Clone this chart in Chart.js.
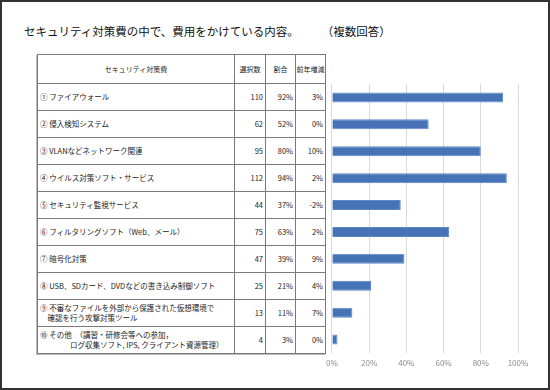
<!DOCTYPE html>
<html lang="ja">
<head>
<meta charset="utf-8">
<script src="https://cdn.jsdelivr.net/npm/chart.js@4.4.0/dist/chart.umd.min.js"></script>
<style>
    html, body { margin: 0; padding: 0; background: #fff; }
    #frame {
        position: relative;
        width: 550px;
        height: 390px;
        box-sizing: border-box;
        border: 2px solid #333;
        overflow: hidden;
        font-family: "Noto Sans CJK JP", sans-serif;
        color: #222;
    }
    #title {
        position: absolute;
        left: 22px;
        top: 21px;
        font-size: 11.5px;
        line-height: 16px;
        white-space: pre;
        color: #111;
    }
    #table {
        position: absolute;
        left: 35px;
        top: 52px;
        width: 288px;
        border-collapse: collapse;
        table-layout: fixed;
        font-size: 7.5px;
        box-shadow: -1px 1px 0 #bbb;
    }
    #table td, #table th {
        border: 1px solid #7a7a7a;
        padding: 0 2px;
        overflow: hidden;
        white-space: pre;
        font-weight: normal;
    }
    #table th { height: 28px; text-align: center; font-size: 7px; padding: 0; }
    #table td { height: 26px; line-height: 10px; }
    #table td.num { text-align: right; }
    #chart-box {
        position: absolute;
        left: 319px;
        top: 72px;
        width: 222px;
        height: 301px;
    }
</style>
</head>
<body>
<div id="frame">
    <div id="title">セキュリティ対策費の中で、費用をかけている内容。　　　（複数回答）</div>
    <table id="table">
        <colgroup>
            <col style="width:197px"><col style="width:31px"><col style="width:30px"><col style="width:30px">
        </colgroup>
        <thead>
            <tr><th>セキュリティ対策費</th><th>選択数</th><th>割合</th><th>前年増減</th></tr>
        </thead>
        <tbody id="table-body"></tbody>
    </table>
    <div id="chart-box"><canvas id="barChart"></canvas></div>
</div>
<script>
/* ==================================================
   セキュリティ対策費 — 表 + 横棒グラフ (Chart.js)
   ================================================== */

// 項目名（表の1列目）
const items = [
    '① ファイアウォール',
    '② 侵入検知システム',
    '③ VLANなどネットワーク関連',
    '④ ウイルス対策ソフト・サービス',
    '⑤ セキュリティ監視サービス',
    '⑥ フィルタリングソフト（Web、メール）',
    '⑦ 暗号化対策',
    '⑧ USB、SDカード、DVDなどの書き込み制御ソフト',
    '⑨ 不審なファイルを外部から保護された仮想環境で\n　確認を行う攻撃対策ツール',
    '⑩ その他　（講習・研修会等への参加，\n　　　　ログ収集ソフト, IPS, クライアント資源管理）'
];

// 選択数
const counts = [110, 62, 95, 112, 44, 75, 47, 25, 13, 4];

// 割合 (%)
const shares = [92, 52, 80, 94, 37, 63, 39, 21, 11, 3];

// 前年増減 (%)
const changes = [3, 0, 10, 2, -2, 2, 9, 4, 7, 0];

// x軸の目盛り
const tickValues = [0, 20, 40, 60, 80, 100];

// 表を作成
const tbody = document.getElementById('table-body');
items.forEach((name, i) => {
    const tr = document.createElement('tr');
    const cells = [
        [name, ''],
        [String(counts[i]), 'num'],
        [shares[i] + '%', 'num'],
        [changes[i] + '%', 'num']
    ];
    cells.forEach(([text, cls]) => {
        const td = document.createElement('td');
        td.textContent = text;
        if (cls) td.className = cls;
        tr.appendChild(td);
    });
    tbody.appendChild(tr);
});

// 横棒グラフ
const ctx = document.getElementById('barChart').getContext('2d');
new Chart(ctx, {
    type: 'bar',
    data: {
        labels: items,
        datasets: [{
            label: '割合',
            data: shares,
            backgroundColor: '#4672b6',
            borderColor: '#5d88c8',
            borderWidth: 1,
            categoryPercentage: 1,
            barPercentage: 0.37
        }]
    },
    options: {
        indexAxis: 'y',
        responsive: true,
        maintainAspectRatio: false,
        animation: false,
        layout: { padding: { left: 10, right: 25, top: 10, bottom: 2 } },
        plugins: {
            legend: { display: false },
            tooltip: { enabled: false }
        },
        scales: {
            y: {
                display: false
            },
            x: {
                min: 0,
                max: 100,
                afterBuildTicks: scale => {
                    scale.ticks = tickValues.map(v => ({ value: v }));
                },
                afterFit: scale => { scale.height = 20; },
                border: { display: false },
                grid: {
                    color: '#d9d9d9',
                    drawTicks: false
                },
                ticks: {
                    color: '#8a8a8a',
                    padding: 5,
                    font: { size: 8, family: 'Noto Sans CJK JP' },
                    callback: v => v + '%'
                }
            }
        }
    }
});
</script>
</body>
</html>
